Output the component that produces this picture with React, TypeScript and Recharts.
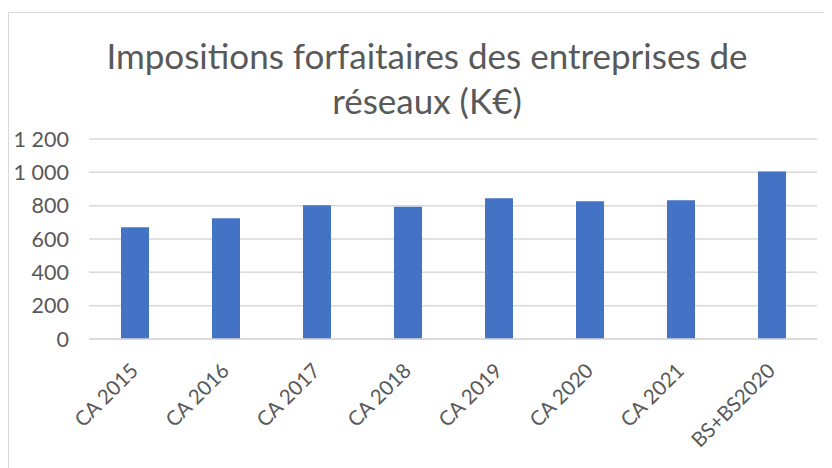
import { BarChart, Bar, XAxis, YAxis, CartesianGrid } from 'recharts'

const categories = ['CA 2015', 'CA 2016', 'CA 2017', 'CA 2018', 'CA 2019', 'CA 2020', 'CA 2021', 'BS+BS2020']
const montants = [671, 725, 803, 793, 845, 827, 833, 1005]
const yTicks = [0, 200, 400, 600, 800, 1000, 1200]

const data = categories.map((c, i) => ({ categorie: c, montant: montants[i] }))

const FONT = 'Lato, "Open Sans", sans-serif'
const GREY_TEXT = '#595959'

const formatFr = (v: number) => String(v).replace(/\B(?=(\d{3})+(?!\d))/g, ' ')

function AngledTick(props: any) {
    const { x, y, payload } = props
    const tx = x + 5
    const ty = y + 25
    return (
        <text
            x={tx}
            y={ty}
            transform={`rotate(-45, ${tx}, ${ty})`}
            textAnchor="end"
            fill={GREY_TEXT}
            fontSize={20.5}
            fontFamily={FONT}
        >
            {payload.value}
        </text>
    )
}

export default function App() {
    return (
        <div
            style={{
                position: 'relative',
                marginTop: 4,
                width: 830,
                height: 460,
                borderLeft: '1.5px solid #d9d9d9',
                borderTop: '1.5px solid #d9d9d9',
                fontFamily: FONT,
            }}
        >
            <div
                style={{
                    position: 'absolute',
                    left: 0,
                    width: 836,
                    top: 20,
                    textAlign: 'center',
                    color: GREY_TEXT,
                    fontSize: 35,
                    lineHeight: '45px',
                }}
            >
                Impositions forfaitaires des entreprises de
                <br />
                réseaux (K€)
            </div>
            <BarChart
                width={823}
                height={440}
                data={data}
                margin={{ top: 126, right: 15, left: 0, bottom: 0 }}
            >
                <CartesianGrid vertical={false} stroke="#d9d9d9" strokeWidth={1.5} />
                <XAxis
                    dataKey="categorie"
                    interval={0}
                    height={114}
                    tickLine={false}
                    axisLine={{ stroke: '#d9d9d9', strokeWidth: 1.5 }}
                    tick={<AngledTick />}
                />
                <YAxis
                    width={80}
                    domain={[0, 1200]}
                    ticks={yTicks}
                    tickFormatter={formatFr}
                    axisLine={false}
                    tickLine={false}
                    tick={{ fill: GREY_TEXT, fontSize: 21.5, fontFamily: FONT }}
                    tickMargin={14}
                />
                <Bar dataKey="montant" fill="#4472C4" barSize={28} isAnimationActive={false} />
            </BarChart>
        </div>
    )
}
